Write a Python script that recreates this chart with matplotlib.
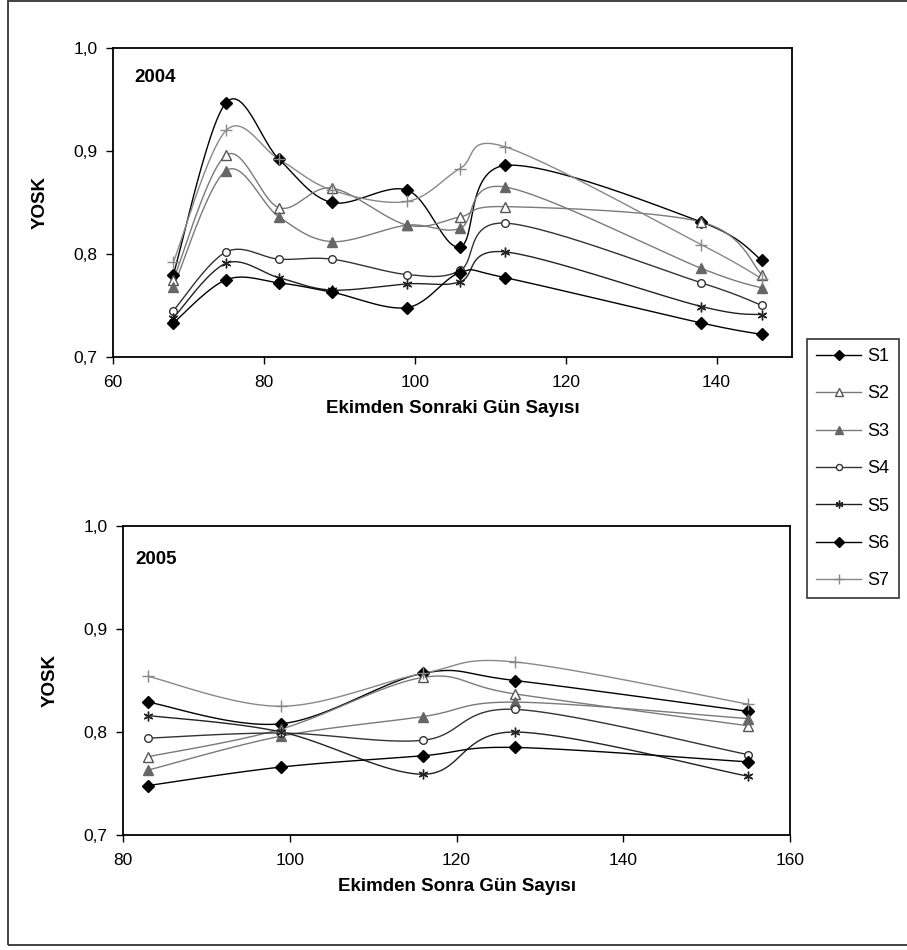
import numpy as np
import matplotlib
matplotlib.use("Agg")
import matplotlib.pyplot as plt
from matplotlib.lines import Line2D
from matplotlib.patches import Rectangle

plt.rcParams['font.family'] = ['Liberation Sans', 'DejaVu Sans']

# --- 2004 season ---
days_2004 = [68, 75, 82, 89, 99, 106, 112, 138, 146]
s1_2004 = [0.780, 0.947, 0.892, 0.850, 0.862, 0.807, 0.886, 0.831, 0.794]
s2_2004 = [0.775, 0.896, 0.845, 0.864, 0.828, 0.836, 0.846, 0.831, 0.780]
s3_2004 = [0.768, 0.881, 0.836, 0.812, 0.828, 0.825, 0.865, 0.786, 0.767]
s4_2004 = [0.745, 0.802, 0.795, 0.795, 0.780, 0.784, 0.830, 0.772, 0.750]
s5_2004 = [0.738, 0.791, 0.777, 0.765, 0.771, 0.773, 0.802, 0.749, 0.741]
s6_2004 = [0.733, 0.775, 0.772, 0.763, 0.748, 0.782, 0.777, 0.733, 0.722]
s7_2004 = [0.792, 0.920, 0.892, 0.862, 0.851, 0.883, 0.904, 0.809, 0.776]

# --- 2005 season ---
days_2005 = [83, 99, 116, 127, 155]
s1_2005 = [0.829, 0.808, 0.857, 0.850, 0.820]
s2_2005 = [0.776, 0.803, 0.853, 0.837, 0.806]
s3_2005 = [0.763, 0.796, 0.815, 0.829, 0.813]
s4_2005 = [0.794, 0.799, 0.792, 0.822, 0.778]
s5_2005 = [0.816, 0.800, 0.759, 0.800, 0.757]
s6_2005 = [0.748, 0.766, 0.777, 0.785, 0.771]
s7_2005 = [0.854, 0.825, 0.857, 0.868, 0.827]

series_names = ["S1", "S2", "S3", "S4", "S5", "S6", "S7"]

styles = {
    "S1": dict(color="black", marker="D", ms=6, mfc="black", mec="black", lw=1.0),
    "S2": dict(color="#7a7a7a", marker="^", ms=7, mfc="white", mec="#555555", lw=1.0),
    "S3": dict(color="#7a7a7a", marker="^", ms=7, mfc="#666666", mec="#666666", lw=1.0),
    "S4": dict(color="#333333", marker="o", ms=5.5, mfc="white", mec="#333333", lw=1.0),
    "S5": dict(color="#222222", marker=(6, 2, 0), ms=7, mfc="#222222", mec="#222222", lw=1.0),
    "S6": dict(color="black", marker="D", ms=6, mfc="black", mec="black", lw=1.0),
    "S7": dict(color="#888888", marker="+", ms=9, mfc="#888888", mec="#888888", lw=1.0),
}


def smooth_display(ax, xs, ys, n=30):
    """Excel-style smoothed curve: cubic Bezier through the points, built in display space."""
    pts = ax.transData.transform(np.column_stack([xs, ys]))
    out = [pts[0]]
    m = len(pts)
    for i in range(m - 1):
        p0 = pts[i - 1] if i > 0 else pts[i]
        p1 = pts[i]
        p2 = pts[i + 1]
        p3 = pts[i + 2] if i + 2 < m else pts[i + 1]
        c1 = p1 + (p2 - p0) / 6.0
        c2 = p2 - (p3 - p1) / 6.0
        t = np.linspace(0, 1, n)[1:, None]
        seg = ((1 - t) ** 3) * p1 + 3 * ((1 - t) ** 2) * t * c1 + 3 * (1 - t) * t ** 2 * c2 + t ** 3 * p2
        out.extend(seg)
    out = np.array(out)
    return ax.transData.inverted().transform(out)


def draw_panel(ax, xs, data, xlim, xticks, year, year_pos, xlabel):
    ax.set_xlim(*xlim)
    ax.set_ylim(0.7, 1.0)
    ax.set_xticks(xticks)
    ax.set_yticks([0.7, 0.8, 0.9, 1.0])
    ax.set_yticklabels(["0,7", "0,8", "0,9", "1,0"])
    ax.tick_params(direction="out", length=5, width=1, labelsize=12.5, colors="black")
    ax.tick_params(axis="x", pad=8)
    ax.tick_params(axis="y", pad=6)
    for sp in ax.spines.values():
        sp.set_linewidth(1.3)
    for name, ys in zip(series_names, data):
        st = styles[name]
        curve = smooth_display(ax, xs, ys)
        ax.plot(curve[:, 0], curve[:, 1], color=st["color"], lw=st["lw"], zorder=2)
        ax.plot(xs, ys, linestyle="none", marker=st["marker"], markersize=st["ms"],
                markerfacecolor=st["mfc"], markeredgecolor=st["mec"], markeredgewidth=1.0, zorder=3)
    ax.text(year_pos[0], year_pos[1], year, transform=ax.transAxes, fontsize=13.5,
            fontweight="bold", va="center", ha="left")
    ax.set_xlabel(xlabel, fontsize=13.5, fontweight="bold", labelpad=7)
    ax.set_ylabel("YOSK", fontsize=13.5, fontweight="bold", labelpad=18)


fig = plt.figure(figsize=(9.07, 9.5), dpi=100)

ax1 = fig.add_axes([113 / 907, 1 - 357 / 950, 679 / 907, 309 / 950])
ax2 = fig.add_axes([123 / 907, 1 - 835 / 950, 667 / 907, 309 / 950])

draw_panel(ax1, days_2004,
           [s1_2004, s2_2004, s3_2004, s4_2004, s5_2004, s6_2004, s7_2004],
           (60, 150), [60, 80, 100, 120, 140], "2004", (0.032, 0.903),
           "Ekimden Sonraki Gün Sayısı")
draw_panel(ax2, days_2005,
           [s1_2005, s2_2005, s3_2005, s4_2005, s5_2005, s6_2005, s7_2005],
           (80, 160), [80, 100, 120, 140, 160], "2005", (0.018, 0.89),
           "Ekimden Sonra Gün Sayısı")

# Shared legend on the right
handles = []
for name in series_names:
    st = styles[name]
    handles.append(Line2D([0], [0], color=st["color"], lw=st["lw"], marker=st["marker"],
                          markersize=st["ms"] * 0.8, markerfacecolor=st["mfc"],
                          markeredgecolor=st["mec"]))
leg = fig.legend(handles, series_names, loc="upper left",
                 bbox_to_anchor=(807 / 907, 1 - 339 / 950), fontsize=13,
                 frameon=True, fancybox=False, edgecolor="black", handlelength=2.5,
                 labelspacing=1.13, borderpad=0.5, handletextpad=0.35, borderaxespad=0)
leg.get_frame().set_linewidth(1.2)

# Outer frame of the figure
fig.patches.append(Rectangle((8 / 907, 1 - 945 / 950), 1.2, 944 / 950, transform=fig.transFigure,
                             fill=False, edgecolor="#333333", lw=1.3))

fig.savefig("out.png", dpi=100)
